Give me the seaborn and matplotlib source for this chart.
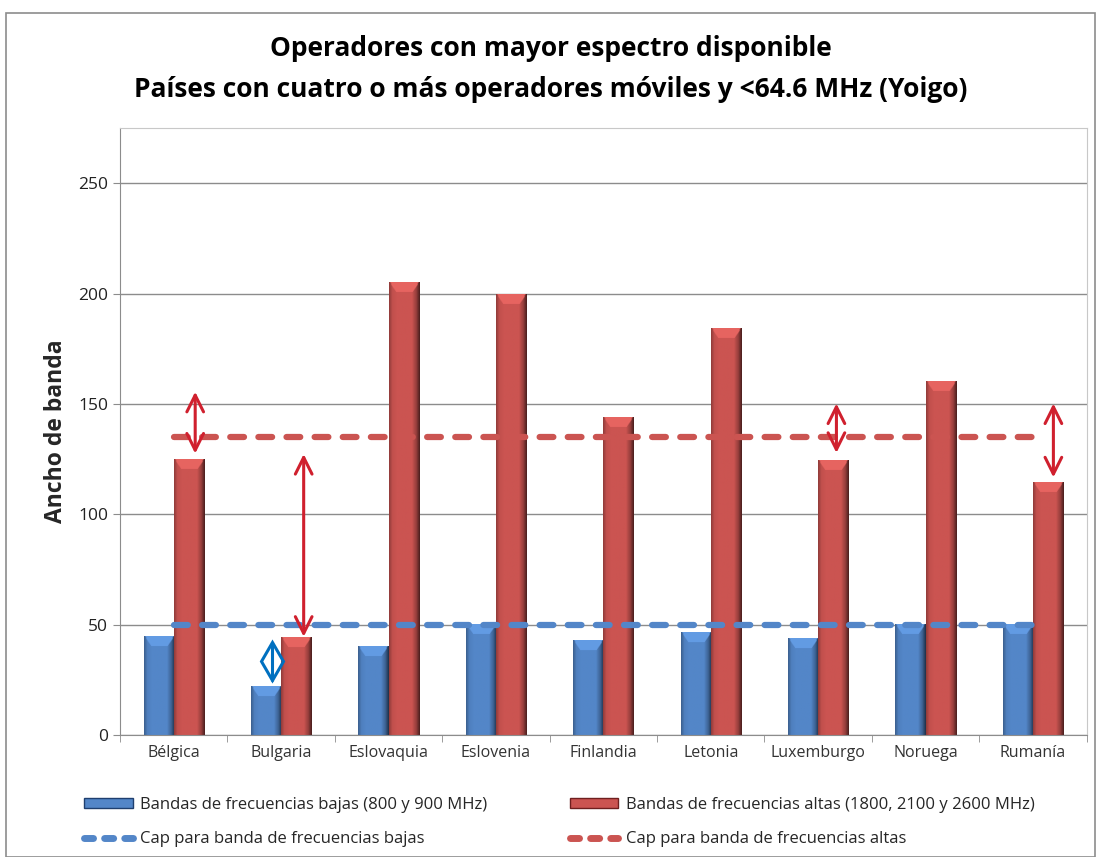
import numpy as np
import pandas as pd
import matplotlib.pyplot as plt
import matplotlib.colors as mcolors
import seaborn as sns
from matplotlib.patches import Rectangle
from matplotlib.lines import Line2D

sns.set_style('white')
plt.rcParams['font.family'] = ['Open Sans', 'DejaVu Sans']

# data
paises = ['Bélgica', 'Bulgaria', 'Eslovaquia', 'Eslovenia', 'Finlandia',
          'Letonia', 'Luxemburgo', 'Noruega', 'Rumanía']
bajas = [44.5, 22, 40.3, 50, 42.7, 46.3, 43.6, 50, 50]
altas = [125, 44.2, 205, 199.6, 143.7, 184.4, 124.4, 160, 114.4]
cap_bajas = [50] * 9
cap_altas = [135] * 9
serie_bajas = 'Bandas de frecuencias bajas (800 y 900 MHz)'
serie_altas = 'Bandas de frecuencias altas (1800, 2100 y 2600 MHz)'

# double arrows drawn over the chart (x in category units, y from/to)
flecha_x = [0.2, 1.21, 6.17, 8.19]
flecha_y0 = [127.5, 44.5, 127.8, 116.7]
flecha_y1 = [155.5, 127.3, 150.2, 150.2]
flecha_azul_x = 0.915
flecha_azul_y = [24.6, 42.3]

azul = '#5386C8'
rojo = '#CB5451'

df = pd.DataFrame({
    'pais': paises * 2,
    'serie': [serie_bajas] * 9 + [serie_altas] * 9,
    'valor': bajas + altas,
})

fig = plt.figure(figsize=(11.01, 8.57), dpi=100)
ax = fig.add_axes([0.109, 0.1424, 0.878, 0.7082])

sns.barplot(data=df, x='pais', y='valor', hue='serie',
            palette=[azul, rojo], saturation=1, width=0.56, ax=ax,
            legend=False, linewidth=0)

ax.set_xlim(-0.5, 8.5)
ax.set_ylim(0, 275)


def bevel(p):
    # rough imitation of the excel bevel look: shaded sides, lighter top
    x0, w, h = p.get_x(), p.get_width(), p.get_height()
    if h <= 0:
        return
    base = np.array(mcolors.to_rgb(p.get_facecolor()))
    nx = 40
    ny = max(int(h / 0.5), 2)
    t = np.linspace(0, 1, nx)
    prof = np.interp(t, [0, 0.1, 0.25, 0.75, 0.9, 1], [0.72, 0.95, 1.0, 1.0, 0.72, 0.38])
    img = np.ones((ny, nx, 3)) * base * prof[None, :, None]
    top = 4.5
    rows = np.linspace(h, 0, ny)
    for i, yy in enumerate(rows):
        d = h - yy
        if d < top:
            inset = 0.2 * (d / top) + 0.03
            m = (t > inset) & (t < 1 - inset)
            img[i, m] = np.clip(base * 1.1 + 0.03, 0, 1)
    img = np.clip(img, 0, 1)
    ax.imshow(img, extent=(x0, x0 + w, 0, h), aspect='auto', zorder=2,
              interpolation='bilinear')


for p in list(ax.patches):
    bevel(p)

pos = np.arange(len(paises))
sns.lineplot(x=pos, y=cap_bajas, ax=ax, color=azul, linewidth=4.5)
sns.lineplot(x=pos, y=cap_altas, ax=ax, color=rojo, linewidth=4.5)
for ln in ax.lines:
    ln.set_dashes((2.2, 2.3))
    ln.set_dash_capstyle('round')
    ln.set_zorder(3)

for x, y0, y1 in zip(flecha_x, flecha_y0, flecha_y1):
    ax.annotate('', xy=(x, y1), xytext=(x, y0),
                arrowprops=dict(arrowstyle='<->,head_length=1.2,head_width=0.6',
                                color='#D0202E', lw=2.2, shrinkA=0, shrinkB=0),
                zorder=4)

# small blue "diamond" arrow over Bulgaria's low band bar
ax.vlines(flecha_azul_x, flecha_azul_y[0], flecha_azul_y[1], color='#0070C0',
          lw=2.2, zorder=4)
ax.plot([flecha_azul_x], [np.mean(flecha_azul_y)], marker='d', markersize=19,
        mfc='none', mec='#0070C0', mew=2.2, zorder=4)

ax.set_xlim(-0.5, 8.5)
ax.set_ylim(0, 275)
ax.set_yticks([0, 50, 100, 150, 200, 250])
ax.yaxis.grid(True, color='#8c8c8c', linewidth=1)
ax.set_axisbelow(True)
ax.set_xlabel('')
ax.set_ylabel('Ancho de banda', fontsize=16.5, fontweight='bold', labelpad=7)
ax.tick_params(axis='y', labelsize=12.5, colors='#222222', length=5,
               color='#8c8c8c', left=True)
ax.tick_params(axis='x', which='major', labelsize=11.5, colors='#333333',
               length=0, pad=7)
ax.set_xticks(np.arange(-0.5, 9, 1), minor=True)
ax.tick_params(axis='x', which='minor', length=5, color='#8c8c8c', bottom=True)
for s in ax.spines.values():
    s.set_color('#c8c8c8')
ax.spines['left'].set_color('#8c8c8c')
ax.spines['bottom'].set_color('#8c8c8c')

fig.text(0.5, 0.943, 'Operadores con mayor espectro disponible',
         ha='center', va='center', fontsize=19, fontweight='bold', color='black')
fig.text(0.5, 0.895, 'Países con cuatro o más operadores móviles y <64.6 MHz (Yoigo)',
         ha='center', va='center', fontsize=19, fontweight='bold', color='black')

handles = [
    Rectangle((0, 0), 1, 1, facecolor=azul, edgecolor='#1f3f6f'),
    Line2D([], [], color=azul, linewidth=5, dashes=(1.3, 1.6),
           dash_capstyle='round'),
    Rectangle((0, 0), 1, 1, facecolor=rojo, edgecolor='#6f1f1f'),
    Line2D([], [], color=rojo, linewidth=5, dashes=(1.3, 1.6),
           dash_capstyle='round'),
]
labels = [serie_bajas, 'Cap para banda de frecuencias bajas',
          serie_altas, 'Cap para banda de frecuencias altas']
fig.legend(handles, labels, ncol=2, loc='lower left',
           bbox_to_anchor=(0.063, -0.006), frameon=False, fontsize=12,
           handlelength=2.9, handleheight=0.55, columnspacing=4.95,
           labelspacing=1.1, handletextpad=0.45)

fig.patches.append(Rectangle((0.005, 0.0), 0.99, 0.985, transform=fig.transFigure,
                             fill=False, edgecolor='#8c8c8c', linewidth=1.2))

fig.savefig('out.png', dpi=100)
